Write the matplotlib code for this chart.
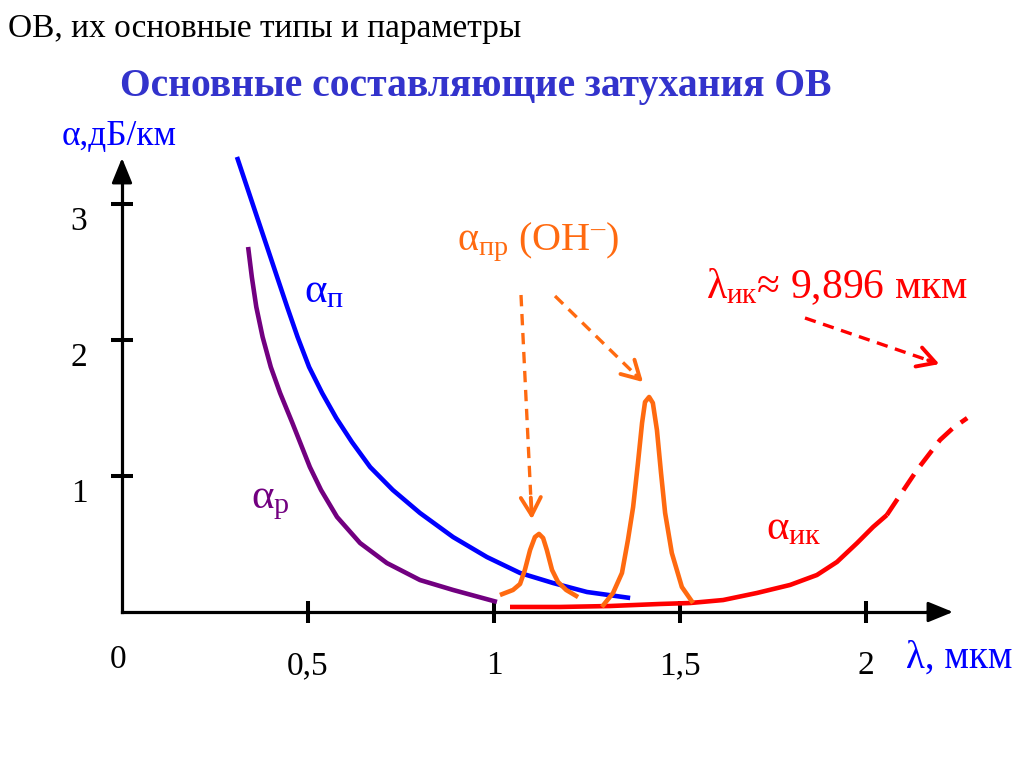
import matplotlib
matplotlib.use('Agg')
import matplotlib.pyplot as plt
from matplotlib.transforms import ScaledTranslation

plt.rcParams['font.family'] = ['Liberation Serif', 'DejaVu Serif']
plt.rcParams['mathtext.fontset'] = 'custom'
plt.rcParams['mathtext.rm'] = 'Liberation Serif'
plt.rcParams['mathtext.it'] = 'Liberation Serif'
plt.rcParams['mathtext.bf'] = 'Liberation Serif:bold'

# ---------------- data (wavelength, µm ; attenuation, dB/km) ----------------
scat_x = [0.309, 0.336, 0.363, 0.390, 0.417, 0.444, 0.472, 0.503, 0.538, 0.576,
          0.618, 0.667, 0.728, 0.801, 0.890, 0.981, 1.070, 1.159, 1.250, 1.366]
scat_y = [3.346, 3.125, 2.904, 2.684, 2.463, 2.243, 2.022, 1.801, 1.610, 1.426,
          1.250, 1.066, 0.897, 0.728, 0.551, 0.404, 0.287, 0.213, 0.147, 0.103]

rayl_x = [0.339, 0.349, 0.361, 0.378, 0.400, 0.425, 0.458, 0.505, 0.535, 0.578,
          0.640, 0.712, 0.801, 0.890, 1.008]
rayl_y = [2.684, 2.463, 2.243, 2.022, 1.801, 1.610, 1.390, 1.066, 0.897, 0.699,
          0.507, 0.360, 0.235, 0.162, 0.074]

ir_x = [1.043, 1.177, 1.312, 1.446, 1.527, 1.616, 1.707, 1.796, 1.868, 1.922,
        1.976, 2.019, 2.056]
ir_y = [0.037, 0.037, 0.044, 0.059, 0.066, 0.088, 0.140, 0.199, 0.272, 0.368,
        0.507, 0.625, 0.713]
ir_dash_x = [2.056, 2.083, 2.137, 2.199, 2.234, 2.272]
ir_dash_y = [0.713, 0.824, 1.044, 1.265, 1.353, 1.426]

oh1_x = [1.016, 1.051, 1.070, 1.083, 1.097, 1.110, 1.121, 1.132, 1.142, 1.156,
         1.172, 1.194, 1.226]
oh1_y = [0.125, 0.162, 0.206, 0.309, 0.456, 0.551, 0.574, 0.544, 0.456, 0.309,
         0.221, 0.162, 0.110]
oh2_x = [1.290, 1.320, 1.344, 1.360, 1.374, 1.387, 1.398, 1.406, 1.417, 1.427,
         1.438, 1.449, 1.460, 1.478, 1.505, 1.535]
oh2_y = [0.037, 0.140, 0.287, 0.529, 0.772, 1.096, 1.390, 1.544, 1.581, 1.537,
         1.338, 1.022, 0.728, 0.434, 0.184, 0.066]

xticks = [0.5, 1.0, 1.5, 2.0]
xtick_labels = ['0,5', '1', '1,5', '2']
yticks = [1, 2, 3]
ytick_labels = ['1', '2', '3']

BLUE = '#0000FF'
PURPLE = '#720080'
ORANGE = '#FF6A10'
RED = '#FF0000'

# ---------------- figure ----------------
W, H = 1024, 767
fig = plt.figure(figsize=(W / 100, H / 100), dpi=100)
ax = fig.add_axes([0, 0, 1, 1])
PX, PY, X0, Y0 = 372.0, 136.0, 122.0, 612.0
ax.set_xlim(-X0 / PX, (W - X0) / PX)
ax.set_ylim(-(H - Y0) / PY, Y0 / PY)


def P(px, py):
    return ((px - X0) / PX, (Y0 - py) / PY)


xmax = P(953, 0)[0]
ymax = P(0, 158)[1]

for s in ['top', 'right']:
    ax.spines[s].set_visible(False)
ax.spines['left'].set_position(('data', 0))
ax.spines['bottom'].set_position(('data', 0))
ax.spines['left'].set_bounds(0, ymax - 0.1)
ax.spines['bottom'].set_bounds(0, xmax - 0.04)
for s in ['left', 'bottom']:
    ax.spines[s].set_linewidth(2.3)
    ax.spines[s].set_capstyle('projecting')

head = dict(arrowstyle='-|>,head_length=1.1,head_width=0.45', color='k', lw=2.0,
            mutation_scale=14, shrinkA=0, shrinkB=0)
ax.annotate('', xy=(xmax, 0), xytext=(xmax - 0.07, 0), arrowprops=head)
ax.annotate('', xy=(0, ymax), xytext=(0, ymax - 0.18), arrowprops=head)

ax.set_xticks(xticks, labels=xtick_labels)
ax.set_yticks(yticks, labels=ytick_labels)
ax.tick_params(axis='both', direction='inout', length=16, width=2.9,
               labelsize=24, color='k')
ax.tick_params(axis='x', pad=20)
ax.tick_params(axis='y', pad=17)
for lab in ax.get_yticklabels():
    lab.set_transform(lab.get_transform() + ScaledTranslation(0, -0.14, fig.dpi_scale_trans))

# ---------------- curves ----------------
lw = 3.3
kw = dict(lw=lw, solid_capstyle='butt', solid_joinstyle='round')
ax.plot(scat_x, scat_y, color=BLUE, **kw)
ax.plot(rayl_x, rayl_y, color=PURPLE, **kw)
ax.plot(ir_x, ir_y, color=RED, **kw)
ax.plot(ir_dash_x, ir_dash_y, color=RED, lw=lw, dashes=(4.2, 2.3))
ax.plot(oh1_x, oh1_y, color=ORANGE, **kw)
ax.plot(oh2_x, oh2_y, color=ORANGE, **kw)


def dashed_arrow(p0, p1, color):
    x0, y0 = P(*p0)
    x1, y1 = P(*p1)
    xm, ym = x0 + (x1 - x0) * 0.88, y0 + (y1 - y0) * 0.88
    ax.plot([x0, xm], [y0, ym], color=color, lw=2.4, dashes=(3.4, 2.3))
    ax.annotate('', xy=(x1, y1), xytext=(xm, ym),
                arrowprops=dict(arrowstyle='->,head_length=0.8,head_width=0.45',
                                color=color, lw=2.8, mutation_scale=16))


dashed_arrow((521, 295), (532, 522), ORANGE)
dashed_arrow((555, 296), (645, 384), ORANGE)
dashed_arrow((805, 318), (942, 365), RED)

# ---------------- texts ----------------
fig.text(8 / W, 1 - 37 / H, 'ОВ, их основные типы и параметры', fontsize=24,
         color='black', ha='left', va='baseline')
fig.text(476 / W, 1 - 96 / H, 'Основные составляющие затухания ОВ', fontsize=28.5,
         fontweight='bold', color='#3333CC', ha='center', va='baseline')

ax.text(*P(62, 145), 'α,дБ/км', fontsize=25.5, color=BLUE, ha='left', va='baseline')
ax.text(*P(906, 668), 'λ, мкм', fontsize=28, color=BLUE, ha='left', va='baseline')
ax.text(*P(118, 668), '0', fontsize=24, color='black', ha='center', va='baseline')

ax.text(*P(304, 302), r'$α_{\mathrm{п}}$', fontsize=31, color=BLUE, ha='left', va='baseline')
ax.text(*P(251, 508), r'$α_{\mathrm{р}}$', fontsize=31, color=PURPLE, ha='left', va='baseline')
ax.text(*P(457, 250), r'$α_{\mathrm{пр}}$ (OH$^{–}$)', fontsize=29, color=ORANGE,
        ha='left', va='baseline')
ax.text(*P(706, 298), r'$λ_{\mathrm{ик}}$≈ 9,896 мкм', fontsize=30, color=RED,
        ha='left', va='baseline')
ax.text(*P(766, 539), r'$α_{\mathrm{ик}}$', fontsize=31, color=RED, ha='left', va='baseline')

fig.savefig('out.png', dpi=100)
